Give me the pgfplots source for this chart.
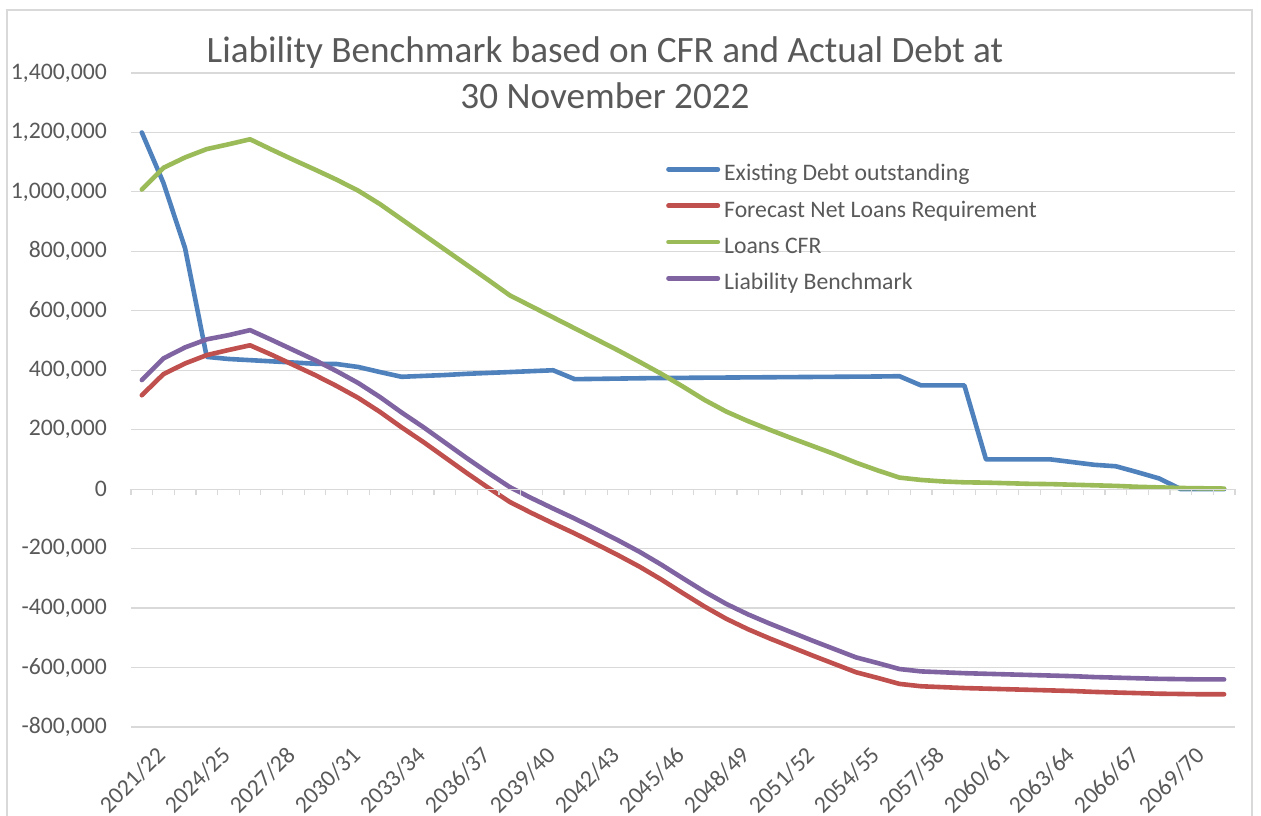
\documentclass[border=0pt]{standalone}
\usepackage{pgfplots}
\pgfplotsset{compat=1.18}
\usepackage{fontspec}
\setmainfont{Carlito}
\definecolor{cblue}{HTML}{4F81BD}
\definecolor{cred}{HTML}{C0504D}
\definecolor{cgreen}{HTML}{9BBB59}
\definecolor{cpurple}{HTML}{8064A2}
\definecolor{gridc}{HTML}{D9D9D9}
\definecolor{txt}{HTML}{595959}
\begin{document}
\begin{tikzpicture}[x=1bp,y=1bp]
\useasboundingbox (0,0) rectangle (1261,816);
\draw[gridc, line width=1.2bp] (7,-5) -- (7,806) -- (1252,806) -- (1252,-5);
\begin{axis}[
  at={(131bp,89bp)}, anchor=south west,
  scale only axis, width=1104bp, height=654bp,
  xmin=-0.5, xmax=50.5, ymin=-800000, ymax=1400000,
  axis line style={draw=none}, tick style={draw=none},
  ytick={-800000,-600000,...,1400000},
  ymajorgrids, grid style={gridc, line width=1.2bp},
  scaled y ticks=false,
  /pgf/number format/.cd, fixed, 1000 sep={,}, assume math mode=true, /pgfplots/.cd,
  ticklabel style={font=\fontsize{23.7bp}{28bp}\selectfont, text=txt},
  yticklabel style={anchor=east, inner sep=0pt, xshift=-24bp},
  xtick={0,3,...,48},
  xticklabels={2021/22,2024/25,2027/28,2030/31,2033/34,2036/37,2039/40,2042/43,2045/46,2048/49,2051/52,2054/55,2057/58,2060/61,2063/64,2066/67,2069/70},
  xticklabel style={rotate=45, anchor=north east, inner sep=0pt, xshift=-3bp, yshift=-22bp},
  legend style={at={(0.4846,0.8598)}, anchor=north west, draw=none, fill=none,
    font=\fontsize{23.7bp}{28bp}\selectfont, text=txt, inner sep=0pt, row sep=15.3bp,
    nodes={inner sep=0pt, text height=16bp, text depth=5bp},
    /tikz/column 1/.style={column sep=4bp}},
  legend cell align=left,
  legend image code/.code={\draw[#1, line cap=round] (2.3bp,6bp) -- (51.7bp,6bp);},
  every axis plot/.append style={line width=4.6bp, line join=round, line cap=round, mark=none},
]
\addplot[cblue] coordinates {
(0,1200000)(1,1030000)(2,810000)(3,445000)(4,438000)(5,434000)(6,430000)(7,426000)(8,422000)(9,421000)
(10,411000)(11,394000)(12,378000)(13,381000)(14,384000)(15,388000)(16,391000)(17,394000)(18,397000)(19,400000)
(20,370000)(21,371000)(22,372000)(23,373000)(24,374000)(25,374500)(26,375000)(27,375500)(28,376000)(29,376500)
(30,377000)(31,377500)(32,378000)(33,378500)(34,379000)(35,380000)(36,349000)(37,349000)(38,349000)(39,100000)
(40,100000)(41,100000)(42,100000)(43,91000)(44,82000)(45,77000)(46,57000)(47,36000)(48,0)(49,0)(50,0)};
\addlegendentry{Existing Debt outstanding}
\addplot[cred] coordinates {
(0,316000)(1,387000)(2,423000)(3,451000)(4,468000)(5,484000)(6,452000)(7,418000)(8,384000)(9,347000)
(10,307000)(11,260000)(12,208000)(13,159000)(14,107000)(15,55000)(16,5000)(17,-43000)(18,-80000)(19,-115000)
(20,-149000)(21,-185000)(22,-222000)(23,-261000)(24,-304000)(25,-350000)(26,-395000)(27,-436000)(28,-471000)(29,-502000)
(30,-531000)(31,-560000)(32,-588000)(33,-616000)(34,-635000)(35,-655000)(36,-663000)(37,-666000)(38,-669000)(39,-671000)
(40,-673000)(41,-675000)(42,-677000)(43,-679000)(44,-682000)(45,-684000)(46,-686000)(47,-688000)(48,-689000)(49,-690000)(50,-690000)};
\addlegendentry{Forecast Net Loans Requirement}
\addplot[cgreen] coordinates {
(0,1008000)(1,1081000)(2,1116000)(3,1144000)(4,1160000)(5,1177000)(6,1142000)(7,1108000)(8,1075000)(9,1041000)
(10,1004000)(11,959000)(12,908000)(13,857000)(14,806000)(15,755000)(16,704000)(17,652000)(18,615000)(19,578000)
(20,541000)(21,504000)(22,467000)(23,428000)(24,388000)(25,345000)(26,300000)(27,261000)(28,229000)(29,200000)
(30,172000)(31,145000)(32,118000)(33,89000)(34,63000)(35,39000)(36,31000)(37,26000)(38,23000)(39,22000)
(40,20000)(41,18000)(42,17000)(43,15000)(44,13000)(45,11000)(46,8000)(47,6000)(48,4000)(49,3000)(50,2000)};
\addlegendentry{Loans CFR}
\addplot[cpurple] coordinates {
(0,367000)(1,440000)(2,477000)(3,504000)(4,518000)(5,535000)(6,502000)(7,468000)(8,434000)(9,397000)
(10,357000)(11,310000)(12,258000)(13,209000)(14,157000)(15,105000)(16,55000)(17,7000)(18,-30000)(19,-65000)
(20,-99000)(21,-135000)(22,-172000)(23,-211000)(24,-254000)(25,-300000)(26,-345000)(27,-386000)(28,-421000)(29,-452000)
(30,-481000)(31,-510000)(32,-538000)(33,-566000)(34,-585000)(35,-605000)(36,-613000)(37,-616000)(38,-619000)(39,-621000)
(40,-623000)(41,-625000)(42,-627000)(43,-629000)(44,-632000)(45,-634000)(46,-636000)(47,-638000)(48,-639000)(49,-640000)(50,-640000)};
\addlegendentry{Liability Benchmark}
\end{axis}
\begin{axis}[
  at={(131bp,89bp)}, anchor=south west,
  scale only axis, width=1104bp, height=654bp,
  xmin=-0.5, xmax=50.5, ymin=-800000, ymax=1400000,
  axis x line=middle, axis y line=none,
  axis line style={-, draw=gridc, line width=1.2bp},
  xtick={-0.5,0.5,...,50.5}, xticklabels={}, ytick=\empty,
  xtick align=outside, major tick length=6bp,
  x tick style={draw=gridc, line width=1.2bp},
]
\end{axis}
\node[anchor=base, text=txt, font=\fontsize{37.2bp}{44bp}\selectfont] at (605,753) {Liability Benchmark based on CFR and Actual Debt at};
\node[anchor=base, text=txt, font=\fontsize{37.2bp}{44bp}\selectfont] at (605,707) {30 November 2022};
\end{tikzpicture}
\end{document}
